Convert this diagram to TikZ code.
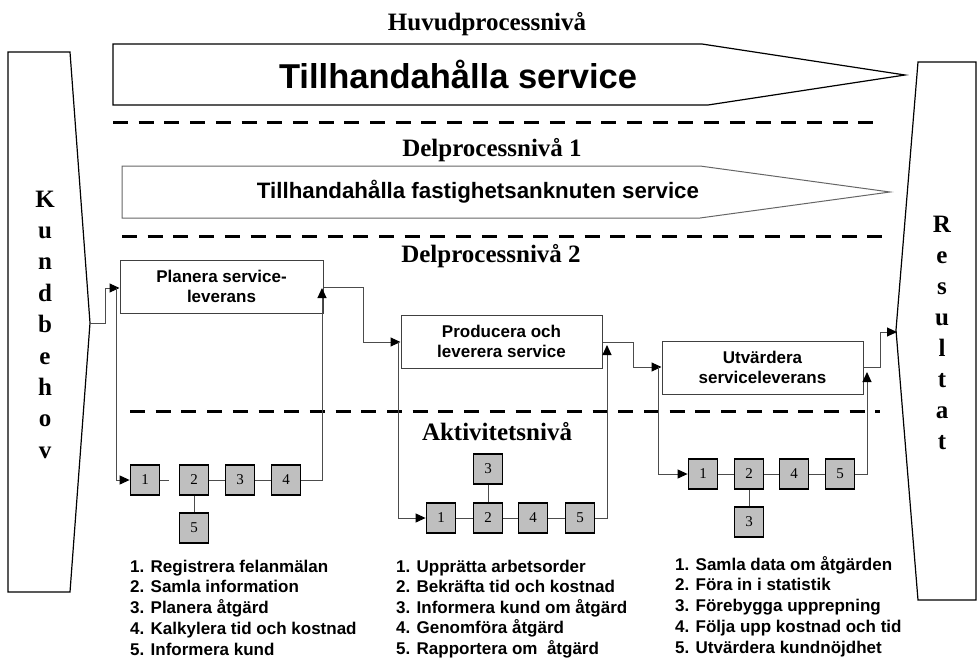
\documentclass[tikz,border=0pt]{standalone}
\usepackage{fontspec}
\setmainfont{Liberation Serif}
\setsansfont{Liberation Sans}
\usetikzlibrary{arrows.meta}
\begin{document}
\begin{tikzpicture}[x=1pt,y=-1pt,
  lvl/.style={font=\fontsize{25}{30}\selectfont\bfseries, inner sep=0pt, anchor=base},
  proc/.style={draw=black!75, line width=1pt, minimum width=201pt, minimum height=53pt, align=center,
     font=\sffamily\bfseries\fontsize{17}{20.5}\selectfont, inner sep=0pt},
  act/.style={draw=black, fill=black!25, line width=1.8pt, minimum width=29pt, minimum height=30pt,
     inner sep=0pt, font=\fontsize{15}{15}\selectfont},
  conn/.style={draw=black!70, line width=1pt},
  arr/.style={conn, -{Triangle[length=10pt,width=9pt,color=black]}},
  lst/.style={font=\sffamily\bfseries\fontsize{17}{20}\selectfont, inner sep=0pt, anchor=base west},
  dline/.style={line width=3pt, dash pattern=on 15pt off 10.7pt},
  shapeline/.style={line width=1.2pt, draw=black},
]
\useasboundingbox (0,0) rectangle (978,659);

% side shapes
\draw[shapeline] (8,52) -- (70,52) -- (90,323) -- (70,592) -- (8,592) -- cycle;
\draw[shapeline] (918,62) -- (976,62) -- (976,600) -- (918,600) -- (896,330) -- cycle;
\foreach \c [count=\i] in {K,u,n,d,b,e,h,o,v}
  \node[lvl] (kb\i) at (45,{207+31.4*(\i-1)}) {\c};
\foreach \c [count=\i] in {R,e,s,u,l,t,a,t}
  \node[lvl] (rs\i) at (942,{232+31.1*(\i-1)}) {\c};
\coordinate (kbtip) at (90,323);
\coordinate (rstip) at (897,332);

% levels
\node[lvl] (huvud) at (487,30) {Huvudprocessnivå};
\draw[shapeline] (113,44) -- (702,44) -- (905,75) -- (708,105) -- (113,105) -- cycle;
\node[font=\sffamily\bfseries\fontsize{34.5}{40}\selectfont, inner sep=0pt, anchor=base] (ts) at (458,88) {Tillhandahålla service};
\draw[dline] (113,122) -- (880,122);

\node[lvl] (del1) at (492,156) {Delprocessnivå 1};
\draw[line width=1pt, draw=black!60] (122,166) -- (700,166) -- (890,192) -- (700,218) -- (122,218) -- cycle;
\node[font=\sffamily\bfseries\fontsize{22.3}{26}\selectfont, inner sep=0pt, anchor=base] (tfs) at (478,198) {Tillhandahålla fastighetsanknuten service};
\draw[dline] (122,236) -- (888,236);

\node[lvl] (del2) at (491,262) {Delprocessnivå 2};
\draw[dline] (130,411) -- (880,411);
\node[lvl] (akt) at (497,440) {Aktivitetsnivå};

% process boxes
\node[proc, minimum width=203pt] (plan) at (221.5,286.5) {Planera service-\\leverans};
\node[proc] (prod) at (501.5,341.5) {Producera och\\leverera service};
\node[proc] (utv) at (762.5,367.5) {Utvärdera\\serviceleverans};

% activity boxes: Planera
\node[act] (p1) at (145,480) {1};
\node[act] (p2) at (194,480) {2};
\node[act] (p3) at (240,480) {3};
\node[act] (p4) at (286,480) {4};
\node[act] (p5) at (194,528) {5};
\coordinate (p1stub) at (169,480);
\draw[conn] (p1) -- (p1stub);
\draw[conn] (p2) -- (p3);
\draw[conn] (p3) -- (p4);
\draw[conn] (p2) -- (p5);

% activity boxes: Producera
\node[act] (q1) at (441,518) {1};
\node[act] (q2) at (488,518) {2};
\node[act] (q4) at (533,518) {4};
\node[act] (q5) at (580,518) {5};
\node[act] (q3) at (488,469) {3};
\draw[conn] (q1) -- (q2);
\draw[conn] (q2) -- (q4);
\draw[conn] (q4) -- (q5);
\draw[conn] (q2) -- (q3);

% activity boxes: Utvardera
\node[act] (u1) at (703,474) {1};
\node[act] (u2) at (749,474) {2};
\node[act] (u4) at (794,474) {4};
\node[act] (u5) at (840,474) {5};
\node[act] (u3) at (749,522) {3};
\draw[conn] (u1) -- (u2);
\draw[conn] (u2) -- (u4);
\draw[conn] (u4) -- (u5);
\draw[conn] (u2) -- (u3);

% flow connectors
\coordinate (kbout) at (105,323);
\coordinate (plin) at (plan.west |- 0,288);
\coordinate (plsplit) at (116,288);
\draw[arr] (kbtip) -- (kbout) |- (plin);
\draw[arr] (plsplit) |- (p1.west);
\coordinate (plret) at (322,288);
\draw[arr] (p4.east) -| (plret);

\coordinate (plout) at (plan.east |- 0,287);
\coordinate (prin) at (prod.west |- 0,342);
\draw[arr] (plout) -- (363,287) |- (prin);
\coordinate (prsplit) at (398,342);
\draw[arr] (prsplit) |- (q1.west);
\coordinate (prret) at (607,345);
\draw[arr] (q5.east) -| (prret);

\coordinate (prout) at (prod.east |- 0,342);
\coordinate (utin) at (utv.west |- 0,367);
\draw[arr] (prout) -- (633,342) |- (utin);
\coordinate (utsplit) at (658,367);
\draw[arr] (utsplit) |- (u1.west);
\coordinate (utret) at (867,372);
\draw[arr] (u5.east) -| (utret);

\coordinate (utout) at (utv.east |- 0,367);
\draw[arr] (utout) -- (880,367) |- (rstip);

% lists
\foreach \t [count=\i] in {1. Registrera felanmälan, 2. Samla information, 3. Planera åtgärd, 4. Kalkylera tid och kostnad, 5. Informera kund}
  \node[lst] (la\i) at (130,{572+20.75*(\i-1)}) {\t};
\foreach \t [count=\i] in {1. Upprätta arbetsorder, 2. Bekräfta tid och kostnad, 3. Informera kund om åtgärd, 4. Genomföra åtgärd, 5. Rapportera om\ \ åtgärd}
  \node[lst] (lb\i) at (396,{572+20.5*(\i-1)}) {\t};
\foreach \t [count=\i] in {1. Samla data om åtgärden, 2. Föra in i statistik, 3. Förebygga upprepning, 4. Följa upp kostnad och tid, 5. Utvärdera kundnöjdhet}
  \node[lst] (lc\i) at (675,{570+20.75*(\i-1)}) {\t};
\end{tikzpicture}
\end{document}
